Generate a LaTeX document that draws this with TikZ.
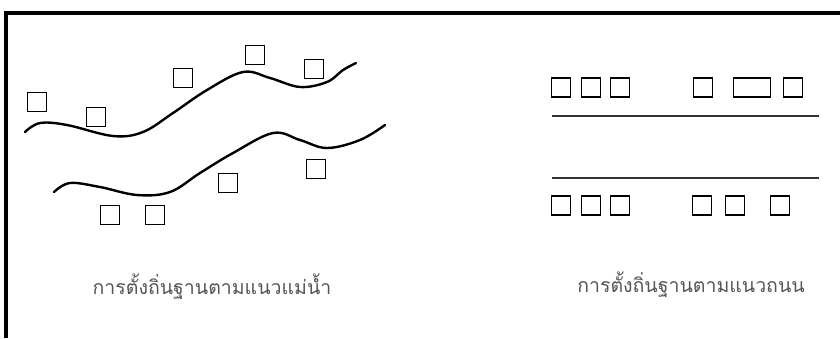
\documentclass[tikz,border=0pt]{standalone}
\usepackage{fontspec}
\newfontfamily\thaifont[Script=Thai]{Loma}
\usepackage{tikz}
\definecolor{capgray}{RGB}{85,85,85}
\tikzset{
  house/.style={draw, line width=1.4pt, minimum size=19pt, inner sep=0pt},
  river/.style={line width=2.4pt, line cap=round},
  road/.style={line width=1.6pt, draw=black!80},
  caption/.style={text=capgray, font=\thaifont\fontsize{19.5}{22}\selectfont}
}
\begin{document}
\begin{tikzpicture}[x=1pt,y=-1pt]
  \useasboundingbox (0,0) rectangle (840,338);

  % frame
  \draw[line width=4pt] (5.5,338) -- (5.5,13) -- (840,13);

  \begin{scope}
  % rivers
  \draw[river] plot[smooth, tension=0.6] coordinates {(25,132) (40,123) (67,125) (113,136) (143,132) (173,113) (207,90) (243,72) (270,78) (300,87) (327,82) (343,70) (356,63)};
  \draw[river] plot[smooth, tension=0.6] coordinates {(54,192) (70,183) (100,187) (137,195) (170,192) (200,173) (233,153) (273,133) (300,140) (327,148) (360,140) (385,125)};

  % houses along the river
  \node[house] (r1) at (37,102) {};
  \node[house] (r2) at (96,117) {};
  \node[house] (r3) at (183,78) {};
  \node[house] (r4) at (255,55) {};
  \node[house] (r5) at (314,69) {};
  \node[house] (r6) at (316,169) {};
  \node[house] (r7) at (228,183) {};
  \node[house] (r8) at (110,215) {};
  \node[house] (r9) at (155,215) {};

  \node[caption] (c1) at (212,287) {การตั้งถิ่นฐานตามแนวแม่น้ำ};
  \end{scope}

  \begin{scope}
  % road
  \coordinate (a1) at (552,116);
  \coordinate (a2) at (819,116);
  \coordinate (b1) at (552,178);
  \coordinate (b2) at (819,178);
  \draw[road] (a1) -- (a2);
  \draw[road] (b1) -- (b2);

  % houses along the road
  \node[house] (t1) at (561,87.5) {};
  \node[house] (t2) at (591,87.5) {};
  \node[house] (t3) at (620,87.5) {};
  \node[house] (t4) at (703,87.5) {};
  \node[house, minimum width=37pt] (t5) at (752,87.5) {};
  \node[house] (t6) at (793,87.5) {};

  \node[house] (u1) at (561,205.5) {};
  \node[house] (u2) at (591,205.5) {};
  \node[house] (u3) at (620,205.5) {};
  \node[house] (u4) at (702,205.5) {};
  \node[house] (u5) at (735,205.5) {};
  \node[house] (u6) at (780,205.5) {};

  \node[caption] (c2) at (691,285) {การตั้งถิ่นฐานตามแนวถนน};
  \end{scope}
\end{tikzpicture}
\end{document}
